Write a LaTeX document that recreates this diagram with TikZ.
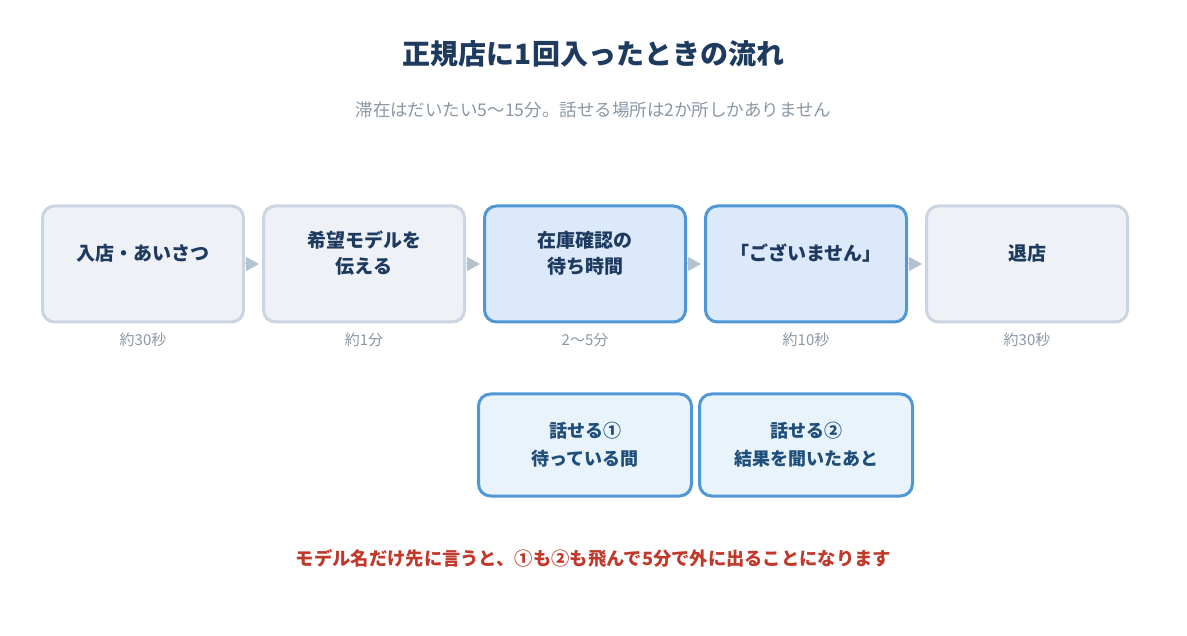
\documentclass[tikz,border=0pt]{standalone}
\usepackage{fontspec}
\setmainfont{Noto Sans CJK JP}
\usetikzlibrary{arrows.meta}

\definecolor{navy}{HTML}{1E3A5F}
\definecolor{talkblue}{HTML}{1F4E7A}
\definecolor{greyfill}{HTML}{EEF2F7}
\definecolor{greyline}{HTML}{CBD5E1}
\definecolor{bluefill}{HTML}{DBE9FB}
\definecolor{blueline}{HTML}{5097D5}
\definecolor{talkfill}{HTML}{E8F3FC}
\definecolor{tipgrey}{HTML}{B4C2D0}
\definecolor{softgrey}{HTML}{8A96A3}
\definecolor{warnred}{HTML}{C0392B}

\tikzset{
	stepbox/.style={rectangle, rounded corners=12pt, line width=3pt, minimum width=201pt, minimum height=116pt},
	greybox/.style={stepbox, draw=greyline, fill=greyfill},
	bluebox/.style={stepbox, draw=blueline, fill=bluefill},
	talkbox/.style={rectangle, rounded corners=12pt, line width=3pt, minimum width=213pt, minimum height=102pt,
		draw=blueline, fill=talkfill, text=talkblue, align=center, font=\fontsize{18}{28}\selectfont\bfseries},
	boxtext/.style={text=navy, align=center, yshift=11pt, font=\fontsize{19}{26}\selectfont\bfseries},
	timetext/.style={text=softgrey, inner sep=0pt, label distance=9pt, font=\fontsize{15}{18}\selectfont},
	steparrow/.style={draw=tipgrey, line width=1pt, shorten >=3pt, -{Triangle[length=13pt,width=14pt]}}
}

\begin{document}
\begin{tikzpicture}[x=1pt,y=-1pt]
	%\draw[help lines] (0,0) grid[step=50] (1187,636);
	\useasboundingbox (0,0) rectangle (1187,636);
	\node[text=navy, font=\fontsize{28}{32}\selectfont\bfseries] (title) at (593.5,54) {正規店に1回入ったときの流れ};
	\node[text=softgrey, font=\fontsize{17.5}{22}\selectfont] (subtitle) at (593.5,110) {滞在はだいたい5〜15分。話せる場所は2か所しかありません};

	% flow
	\node[greybox, label={[boxtext]center:入店・あいさつ}, label={[timetext]below:約30秒}] (enter) at (143,264) {};
	\node[greybox, label={[boxtext]center:希望モデルを\\伝える}, label={[timetext]below:約1分}] (ask) at (364,264) {};
	\node[bluebox, label={[boxtext]center:在庫確認の\\待ち時間}, label={[timetext]below:2〜5分}] (wait) at (585,264) {};
	\node[bluebox, label={[boxtext]center:「ございません」}, label={[timetext]below:約10秒}] (none) at (806,264) {};
	\node[greybox, label={[boxtext]center:退店}, label={[timetext]below:約30秒}] (leave) at (1027,264) {};
	\draw[steparrow] (enter) -- (ask);
	\draw[steparrow] (ask) -- (wait);
	\draw[steparrow] (wait) -- (none);
	\draw[steparrow] (none) -- (leave);

	% talk chances
	\node[talkbox] (talk1) at (585,445) {話せる①\\待っている間};
	\node[talkbox] (talk2) at (806,445) {話せる②\\結果を聞いたあと};

	\node[text=warnred, font=\fontsize{18.3}{22}\selectfont\bfseries] (note) at (593.5,558) {モデル名だけ先に言うと、①も②も飛んで5分で外に出ることになります};
\end{tikzpicture}
\end{document}
